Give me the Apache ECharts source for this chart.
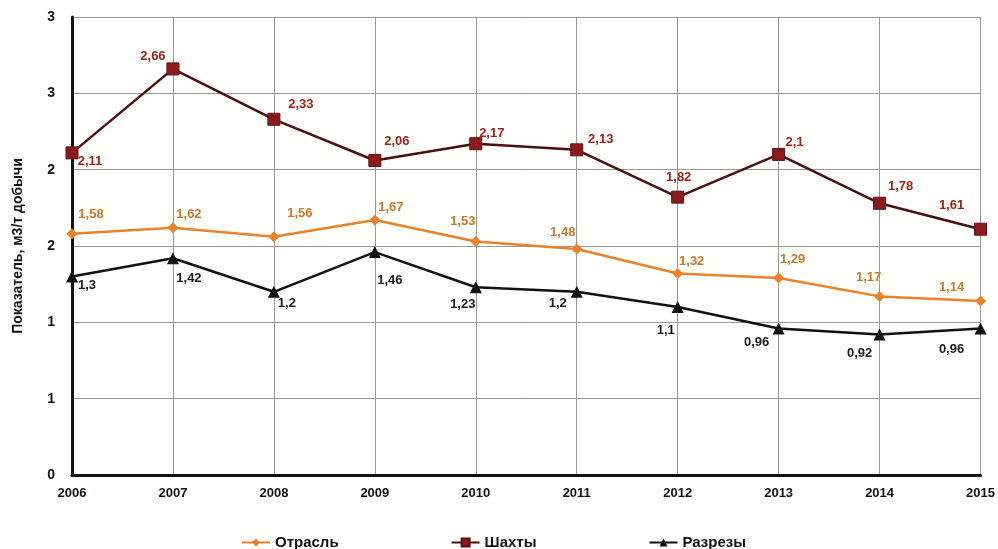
<!DOCTYPE html>
<html>
<head>
<meta charset="utf-8">
<script src="https://cdn.jsdelivr.net/npm/echarts@6/dist/echarts.min.js"></script>
<style>
  html, body { margin: 0; padding: 0; background: #fffffb; }
  #charts { width: 998px; height: 549px; }
</style>
</head>
<body>
<div id="charts"></div>
<script>
const years = ['2006', '2007', '2008', '2009', '2010', '2011', '2012', '2013', '2014', '2015'];
const otrasl = [1.58, 1.62, 1.56, 1.67, 1.53, 1.48, 1.32, 1.29, 1.17, 1.14];
const shakhty = [2.11, 2.66, 2.33, 2.06, 2.17, 2.13, 1.82, 2.1, 1.78, 1.61];
const razrezy = [1.3, 1.42, 1.2, 1.46, 1.23, 1.2, 1.1, 0.96, 0.92, 0.96];
const yTickLabels = ['0', '1', '1', '2', '2', '3', '3'];

const font = '"Liberation Sans Narrow", "Liberation Sans", Arial, sans-serif';

// label offsets (px from marker centre)
const offOtrasl = [[19,-19],[16,-13],[26,-23],[16,-13],[-13,-20],[-14,-17],[14,-12],[14,-19],[-11,-19],[-29,-14]];
const offShakhty = [[18,9],[-20,-12],[27,-15],[22,-19],[16,-10],[24,-10],[1,-20],[16,-12],[21,-17],[-29,-24]];
const offRazrezy = [[15,9],[16,20],[13,12],[15,28],[-13,17],[-19,12],[-12,23],[-22,14],[-20,19],[-29,21]];

function withLabels(values, offsets, color) {
  return values.map(function (v, i) {
    return {
      value: v,
      label: {
        show: true,
        position: 'inside',
        offset: offsets[i],
        color: color,
        fontFamily: font,
        fontWeight: 'bold',
        fontSize: 13,
        formatter: String(v).replace('.', ',')
      }
    };
  });
}

let myChart = echarts.init(document.getElementById('charts'));
let option = {
  backgroundColor: '#fffffb',
  animation: false,
  grid: { left: 72, right: 16, top: 17, bottom: 74 },
  legend: {
    top: 530,
    left: 236,
    itemGap: 112,
    itemWidth: 28,
    itemHeight: 10,
    textStyle: { fontFamily: font, fontWeight: 'bold', fontSize: 15, color: '#111' },
    data: ['Отрасль', 'Шахты', 'Разрезы']
  },
  xAxis: {
    type: 'category',
    data: years,
    boundaryGap: false,
    axisLine: { lineStyle: { color: '#111', width: 3 } },
    axisTick: { show: false },
    axisLabel: { margin: 12, color: '#111', fontFamily: font, fontWeight: 'bold', fontSize: 13 },
    splitLine: { show: true, lineStyle: { color: '#9a9a9a', width: 1 } }
  },
  yAxis: {
    type: 'value',
    min: 0,
    max: 3,
    interval: 0.5,
    name: 'Показатель, м3/т добычи',
    nameLocation: 'middle',
    nameGap: 47,
    nameTextStyle: { fontFamily: font, fontWeight: 'bold', fontSize: 14, color: '#111' },
    axisLine: { show: true, lineStyle: { color: '#111', width: 3 } },
    axisTick: { show: false },
    axisLabel: {
      margin: 17,
      color: '#111',
      fontFamily: font,
      fontWeight: 'bold',
      fontSize: 14,
      formatter: function (v) { return yTickLabels[Math.round(v / 0.5)]; }
    },
    splitLine: { lineStyle: { color: '#9a9a9a', width: 1 } }
  },
  series: [
    {
      name: 'Отрасль',
      type: 'line',
      data: withLabels(otrasl, offOtrasl, '#c97a2e'),
      symbol: 'diamond',
      symbolSize: 11,
      showAllSymbol: true,
      lineStyle: { color: '#e8822c', width: 2.5 },
      itemStyle: { color: '#e8822c' },
      z: 3
    },
    {
      name: 'Шахты',
      type: 'line',
      data: withLabels(shakhty, offShakhty, '#9c2418'),
      symbol: 'rect',
      symbolSize: 12,
      showAllSymbol: true,
      lineStyle: { color: '#4a1010', width: 2.5 },
      itemStyle: { color: '#8a1a1c', borderColor: '#5a1010', borderWidth: 1 },
      z: 4
    },
    {
      name: 'Разрезы',
      type: 'line',
      data: withLabels(razrezy, offRazrezy, '#1a1a1a'),
      symbol: 'triangle',
      symbolSize: 12,
      showAllSymbol: true,
      lineStyle: { color: '#111', width: 2.5 },
      itemStyle: { color: '#111' },
      z: 5
    }
  ]
};
myChart.setOption(option);
window.addEventListener('resize', function () {
  myChart.resize();
});
</script>
</body>
</html>
